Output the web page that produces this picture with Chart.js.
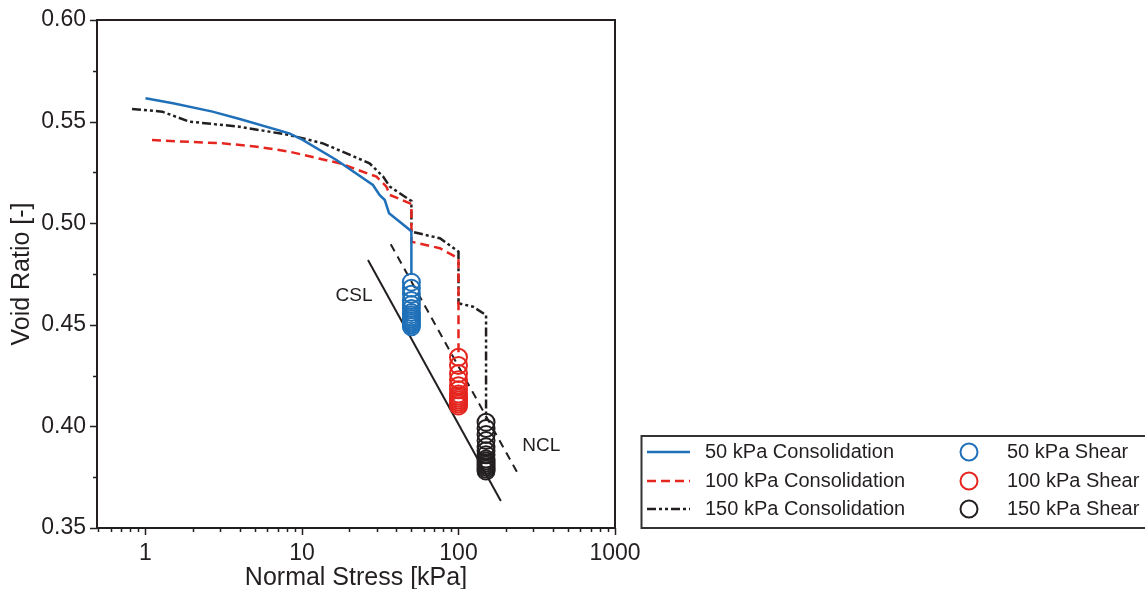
<!DOCTYPE html>
<html>
<head>
<meta charset="utf-8">
<script src="https://cdn.jsdelivr.net/npm/chart.js@4.4.1/dist/chart.umd.min.js"></script>
<style>
html,body{margin:0;padding:0;background:#fff}
</style>
</head>
<body>
<canvas id="myChart" width="1145" height="589"></canvas>
<script>
const ink='#231f20', blue='#1f70b8', red='#e5261f';
const xTicks=[1,10,100,1000];
const yStep=0.05;

// consolidation paths [stress kPa, void ratio]
const cons50=[[1,0.5615],[1.5,0.559],[2.68,0.5549],[4,0.5513],[8.3,0.5442],[10.1,0.541],[16.6,0.5311],[28.4,0.5188],[31.3,0.5139],[33.8,0.5114],[36,0.5049],[48.9,0.4967],[50,0.4958],[50,0.4745]];
const cons100=[[1.1,0.5409],[3.1,0.5393],[5,0.5378],[8.3,0.5352],[17.4,0.5295],[29.9,0.5229],[34.6,0.518],[36.4,0.5139],[48.9,0.5098],[50,0.5093],[50,0.4909],[76,0.4877],[100,0.4827],[100,0.434]];
const cons150=[[0.82,0.5562],[1.28,0.5549],[1.9,0.550],[3.97,0.5475],[8.3,0.5434],[13.6,0.5393],[27,0.5295],[33,0.5229],[36.4,0.518],[48.9,0.5114],[50,0.511],[50,0.4958],[76,0.4926],[100,0.486],[100,0.4606],[124,0.4589],[150,0.4548],[150,0.402]];

// shear void ratios
const shear50=[0.471,0.468,0.465,0.462,0.460,0.458,0.456,0.455,0.454,0.453,0.452,0.451,0.450,0.449];
const shear100=[0.434,0.430,0.426,0.423,0.420,0.418,0.416,0.415,0.414,0.413,0.412,0.411,0.410];
const shear150=[0.402,0.399,0.396,0.393,0.390,0.388,0.386,0.384,0.383,0.382,0.381,0.380,0.379,0.378];

const csl=[[26.4,0.4819],[186.4,0.3633]];
const ncl=[[36.9,0.4896],[236,0.3777]];
const lineLabels=[['CSL',21.5,0.4642],['NCL',338.5,0.3904]];

const pts=arr=>arr.map(p=>({x:p[0],y:p[1]}));
const shearPts=(s,arr)=>arr.map(v=>({x:s,y:v}));

const consSets=[
  {label:'50 kPa Consolidation',data:pts(cons50),borderColor:blue,borderWidth:2.5,borderDash:[]},
  {label:'100 kPa Consolidation',data:pts(cons100),borderColor:red,borderWidth:2.5,borderDash:[9,5]},
  {label:'150 kPa Consolidation',data:pts(cons150),borderColor:ink,borderWidth:2.5,borderDash:[9,3,3,3,3,3]}
];
const shearSets=[
  {label:'50 kPa Shear',data:shearPts(50,shear50),borderColor:blue},
  {label:'100 kPa Shear',data:shearPts(100,shear100),borderColor:red},
  {label:'150 kPa Shear',data:shearPts(150,shear150),borderColor:ink}
];

const datasets=[];
consSets.forEach(d=>datasets.push(Object.assign({showLine:true,pointRadius:0,fill:false,order:2},d)));
shearSets.forEach(d=>datasets.push(Object.assign({showLine:false,pointRadius:8.5,pointStyle:'circle',pointBorderWidth:2,pointBorderColor:d.borderColor,backgroundColor:'rgba(0,0,0,0)',order:0},d)));
datasets.push({label:'CSL',data:pts(csl),showLine:true,pointRadius:0,borderColor:ink,borderWidth:2,order:1});
datasets.push({label:'NCL',data:pts(ncl),showLine:true,pointRadius:0,borderColor:ink,borderWidth:2,borderDash:[8,6],order:1});

const framePlugin={
  id:'framePlugin',
  afterDraw(chart){
    const {ctx,chartArea:a,scales:{x,y}}=chart;
    ctx.save();
    ctx.strokeStyle=ink;
    ctx.lineWidth=2;
    ctx.strokeRect(a.left,a.top,a.right-a.left,a.bottom-a.top);
    ctx.lineWidth=1.5;
    ctx.beginPath();
    for(let d=-1;d<=3;d++){
      for(let m=1;m<10;m++){
        const v=m*Math.pow(10,d);
        if(v<x.min||v>x.max*1.0001) continue;
        const px=Math.round(x.getPixelForValue(v))+0.5;
        const len=m===1?7:4;
        ctx.moveTo(px,a.bottom);ctx.lineTo(px,a.bottom+len);
      }
    }
    for(let i=0;i<=10;i++){
      const v=0.35+i*0.025;
      const py=Math.round(y.getPixelForValue(v))+0.5;
      const len=i%2?4:7;
      ctx.moveTo(a.left,py);ctx.lineTo(a.left-len,py);
    }
    ctx.stroke();

    // CSL / NCL labels
    ctx.fillStyle=ink;
    ctx.font='19px "Liberation Sans", Arial, sans-serif';
    ctx.textAlign='center';ctx.textBaseline='middle';
    lineLabels.forEach(l=>ctx.fillText(l[0],x.getPixelForValue(l[1]),y.getPixelForValue(l[2])));

    // legend
    ctx.strokeStyle='#333';
    ctx.lineWidth=2;
    ctx.strokeRect(641.5,436,510,92);
    ctx.font='20px "Liberation Sans", Arial, sans-serif';
    ctx.textAlign='left';
    const rows=[452,481,509];
    consSets.forEach((d,i)=>{
      ctx.strokeStyle=d.borderColor;ctx.lineWidth=d.borderWidth;ctx.setLineDash(d.borderDash);
      ctx.beginPath();ctx.moveTo(647,rows[i]);ctx.lineTo(690,rows[i]);ctx.stroke();
      ctx.setLineDash([]);
      ctx.fillStyle=ink;ctx.fillText(d.label,705,rows[i]);
    });
    shearSets.forEach((d,i)=>{
      ctx.strokeStyle=d.borderColor;ctx.lineWidth=2;
      ctx.beginPath();ctx.arc(969,rows[i],8.5,0,Math.PI*2);ctx.stroke();
      ctx.fillStyle=ink;ctx.fillText(d.label,1007,rows[i]);
    });
    ctx.restore();
  }
};

Chart.defaults.font.family='"Liberation Sans", Arial, sans-serif';
Chart.defaults.color=ink;

const ctx=document.getElementById('myChart').getContext('2d');
const myChart=new Chart(ctx,{
  type:'scatter',
  data:{datasets:datasets},
  options:{
    responsive:false,
    animation:false,
    layout:{padding:{top:20,right:530,left:0,bottom:0}},
    scales:{
      x:{
        type:'logarithmic',
        min:0.49,
        max:1000,
        afterFit:s=>{s.height=61;s.paddingLeft=0;s.paddingRight=0;},
        afterBuildTicks:s=>{s.ticks=xTicks.map(v=>({value:v}));},
        grid:{display:false,drawTicks:false},
        border:{display:false},
        ticks:{autoSkip:false,maxRotation:0,padding:12,color:ink,font:{size:23},callback:v=>String(v)},
        title:{display:true,text:'Normal Stress [kPa]',color:ink,font:{size:25,lineHeight:0.9},padding:0}
      },
      y:{
        min:0.35,
        max:0.60,
        afterFit:s=>{s.width=97;s.paddingTop=0;s.paddingBottom=0;},
        grid:{display:false,drawTicks:false},
        border:{display:false},
        ticks:{stepSize:yStep,padding:11,color:ink,font:{size:23},callback:v=>v.toFixed(2)},
        title:{display:true,text:'Void Ratio [-]',color:ink,font:{size:25},padding:{top:7,bottom:0}}
      }
    },
    plugins:{
      legend:{display:false},
      tooltip:{enabled:false}
    }
  },
  plugins:[framePlugin]
});
</script>
</body>
</html>
